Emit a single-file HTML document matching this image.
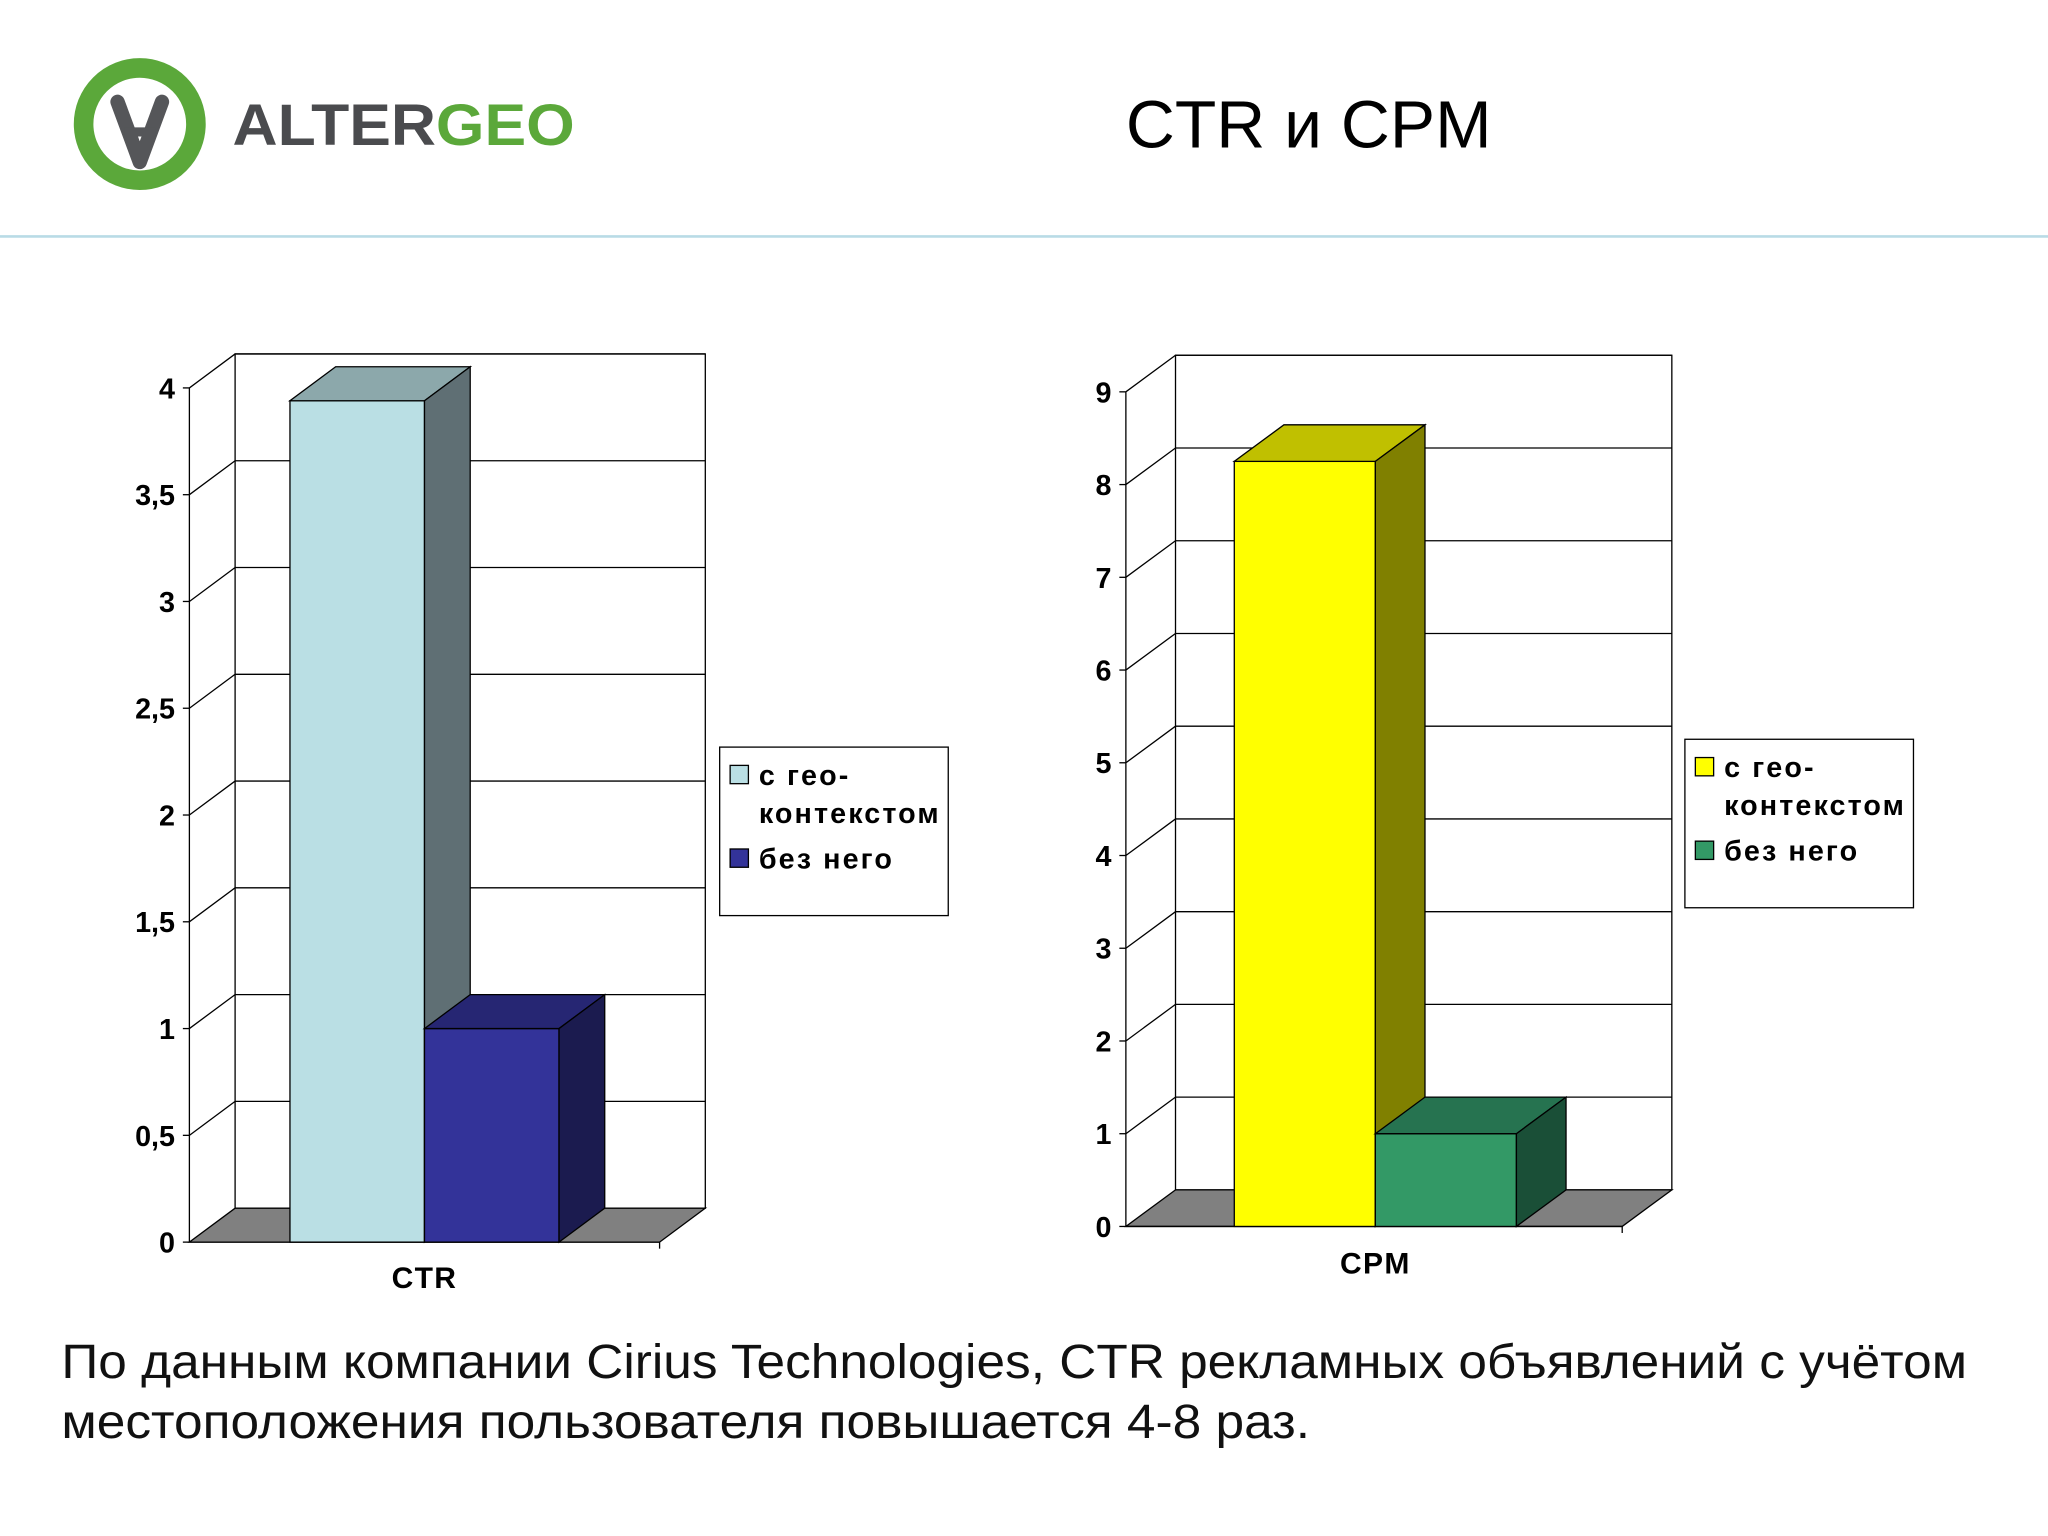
<!DOCTYPE html>
<html><head><meta charset="utf-8"><style>
html,body{margin:0;padding:0;background:#fff;}
svg{display:block;}
text{font-family:"Liberation Sans","DejaVu Sans",sans-serif;}
</style></head><body>
<svg id="s" width="2048" height="1536" viewBox="0 0 1568 1176" xmlns="http://www.w3.org/2000/svg">
<rect width="1568" height="1176" fill="#fff"/>
<g>
<circle cx="107" cy="95" r="43" fill="none" stroke="#5ba83a" stroke-width="15"/>
<path d="M90 78 L107 124 L124 78" fill="none" stroke="#555659" stroke-width="11" stroke-linecap="round" stroke-linejoin="round"/>
<path d="M95 101 L119 101" stroke="#555659" stroke-width="7"/>
<text x="178" y="111" font-size="45" font-weight="bold" fill="#4a4b4e" textLength="262" lengthAdjust="spacingAndGlyphs">ALTER<tspan fill="#5ba83a">GEO</tspan></text>
</g>
<text x="862" y="113" font-size="51" fill="#000" textLength="280" lengthAdjust="spacingAndGlyphs">CTR и CPM</text>
<line x1="0" y1="181" x2="1568" y2="181" stroke="#b9dbe6" stroke-width="2"/>
<g id="c1"></g>
<g id="c2"></g>
<text x="47" y="1055" font-size="37" fill="#111" textLength="1459" lengthAdjust="spacingAndGlyphs">По данным компании Cirius Technologies, CTR рекламных объявлений с учётом</text>
<text x="47" y="1101" font-size="37" fill="#111" textLength="956" lengthAdjust="spacingAndGlyphs">местоположения пользователя повышается 4-8 раз.</text>
</svg>
<script>
const ctrCategories = ["CTR"];
const ctrSeries = ["с гео-|контекстом", "без него"];
const ctrValues = [3.94, 1.0];
const ctrTicks = ["0","0,5","1","1,5","2","2,5","3","3,5","4"];
const cpmCategories = ["CPM"];
const cpmSeries = ["с гео-|контекстом", "без него"];
const cpmValues = [8.25, 1.0];
const cpmTicks = ["0","1","2","3","4","5","6","7","8","9"];

const NS="http://www.w3.org/2000/svg";
function mk(p,tag,a){const e=document.createElementNS(NS,tag);for(const k in a)e.setAttribute(k,a[k]);p.appendChild(e);return e;}
function draw(g,o){
  const max=o.step*(o.ticks.length-1);
  const y=v=>o.y0-(v/max)*(o.y0-o.yTop);
  const dx=o.dx,dy=o.dy,x0=o.x0,x1=o.x1;
  const wall=mk(g,'rect',{x:x0+dx,y:y(max)+dy,width:x1-x0,height:o.y0-y(max),fill:'#fff',stroke:'#000','stroke-width':1});
  
  
  const fl=mk(g,'polygon',{points:`${x0},${o.y0} ${x1},${o.y0} ${x1+dx},${o.y0+dy} ${x0+dx},${o.y0+dy}`,fill:'#808080',stroke:'#000','stroke-width':1});
  
  
  mk(g,'line',{x1:x0,y1:o.y0,x2:x0,y2:y(max),stroke:'#000','stroke-width':1});
  o.ticks.forEach((t,i)=>{
    const v=i*o.step,yy=y(v);
    if(i>0){const gl=mk(g,'polyline',{points:`${x0},${yy} ${x0+dx},${yy+dy} ${x1+dx},${yy+dy}`,fill:'none',stroke:'#000','stroke-width':1});
    
    }
    mk(g,'line',{x1:x0-5,y1:yy,x2:x0,y2:yy,stroke:'#000'});
    const tx=mk(g,'text',{x:x0-11,y:yy+8,'font-size':22,'font-weight':'bold','text-anchor':'end'});
    tx.textContent=t;
    
    
  });
  mk(g,'line',{x1:x0,y1:o.y0,x2:x1,y2:o.y0,stroke:'#000'});
  mk(g,'line',{x1:x1,y1:o.y0,x2:x1,y2:o.y0+5,stroke:'#000'});
  o.values.forEach((v,i)=>{
    const bx=o.barX+i*o.barW,bt=y(v),c=o.colors[i];
    const b=mk(g,'g',{});
    
    
    mk(b,'rect',{x:bx,y:bt,width:o.barW,height:o.y0-bt,fill:c[0],stroke:'#000','stroke-width':1});
    mk(b,'polygon',{points:`${bx},${bt} ${bx+o.barW},${bt} ${bx+o.barW+dx},${bt+dy} ${bx+dx},${bt+dy}`,fill:c[1],stroke:'#000','stroke-width':1});
    mk(b,'polygon',{points:`${bx+o.barW},${bt} ${bx+o.barW+dx},${bt+dy} ${bx+o.barW+dx},${o.y0+dy} ${bx+o.barW},${o.y0}`,fill:c[2],stroke:'#000','stroke-width':1});
  });
  const cl=mk(g,'text',{x:o.barX+o.barW,y:o.catY,'font-size':23,'font-weight':'bold','text-anchor':'middle','letter-spacing':1});
  cl.textContent=o.cat;
  
  
  const L=mk(g,'g',{});
  
  
  mk(L,'rect',{x:o.lx,y:o.ly,width:175,height:129,fill:'#fff',stroke:'#000','stroke-width':1});
  const lines=[[o.series[0].split('|')[0],0],[o.series[0].split('|')[1],-1],[o.series[1],1]];
  const ys=[21,50,85];
  lines.forEach((l,k)=>{
    if(l[1]>=0){const sw=mk(L,'rect',{x:o.lx+8,y:o.ly+ys[k]-7,width:14,height:14,fill:o.colors[l[1]][0],stroke:'#000'});
      
      }
    const t=mk(L,'text',{x:o.lx+30,y:o.ly+ys[k]+8,'font-size':22,'font-weight':'bold','letter-spacing':1.6});
    t.textContent=l[0];
    
    
  });
}
draw(document.getElementById('c1'),{x0:145,x1:505,y0:951,yTop:297,dx:35,dy:-26,step:0.5,ticks:ctrTicks,values:ctrValues,
 barX:222,barW:103,colors:[['#badfe4','#8ca8ab','#5f6f74'],['#333399','#262673','#1b1b4f']],cat:ctrCategories[0],catY:986,series:ctrSeries,lx:551,ly:572});
draw(document.getElementById('c2'),{x0:862,x1:1242,y0:939,yTop:300,dx:38,dy:-28,step:1,ticks:cpmTicks,values:cpmValues,
 barX:945,barW:108,colors:[['#ffff00','#c0c000','#808000'],['#339966','#267350','#1a4f37']],cat:cpmCategories[0],catY:975,series:cpmSeries,lx:1290,ly:566});
</script>
</body></html>
